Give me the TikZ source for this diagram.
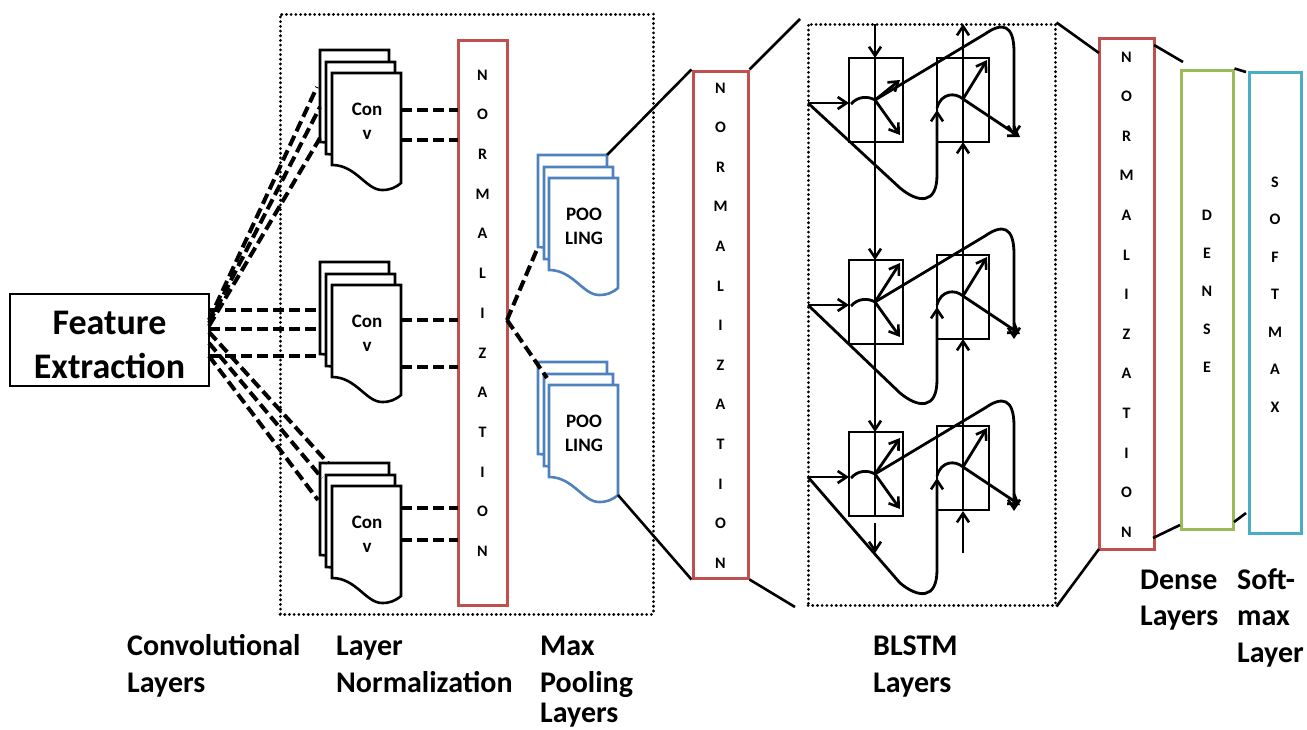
\documentclass[tikz,border=0pt]{standalone}
\usepackage{fontspec}
\setmainfont{Carlito}
\usetikzlibrary{arrows.meta}
\definecolor{nred}{RGB}{192,80,77}
\definecolor{pblue}{RGB}{79,129,189}
\definecolor{dgreen}{RGB}{155,187,89}
\definecolor{scyan}{RGB}{75,172,198}
\tikzset{
 dashln/.style={line width=4pt, dash pattern=on 11pt off 5pt},
 dotbox/.style={draw, line width=3pt, line cap=round, dash pattern=on 0.1pt off 4.6pt, inner sep=0pt},
 solidln/.style={line width=2.6pt},
 vbox/.style={draw, line width=3pt, fill=white, inner sep=0pt},
 nletter/.style={font=\fontsize{16}{16}\selectfont\bfseries, inner sep=0pt},
 lbl/.style={font=\fontsize{30}{36}\selectfont\bfseries, anchor=base west, inner sep=0pt},
 pgtext/.style={font=\fontsize{19}{24}\selectfont\bfseries, align=center, inner sep=0pt},
 cell/.style={draw, line width=2.6pt},
 flow/.style={line width=2.8pt},
 arr/.style={flow, -{Straight Barb[length=9pt,width=12pt,line width=2.6pt]}},
}
\newcommand\docpg[4]{\begin{scope}[shift={(#2,#3)}]
 \draw[line width=2.6pt, draw=#4, fill=white] (0,0) coordinate (#1-tl) -- (69,0) coordinate (#1-tr) -- (69,110) coordinate (#1-br) .. controls (63,115) and (58,117) .. (50,117) .. controls (34,117) and (24,92) .. (0,92) coordinate (#1-bl) -- cycle;
 \end{scope}}
\newcommand\blrow[4]{%
 \draw[cell] (849,58+#1) rectangle (903,142+#1);
 \draw[cell] (937,58+#2) rectangle (989,142+#2);
 \draw[arr] (808,103+#1) -- (849,103+#1);
 \draw[flow] (851,104+#1) .. controls (858,96+#1) and (868,96+#1) .. (875,100+#1);
 \draw[arr] (875,100+#1) -- (900,#3+#1);
 \draw[arr] (875,100+#1) -- (900,135+#1);
 \draw[arr] (875,100+#1) -- (985,34+#1) .. controls (1002,22+#1) and (1014,24+#1) .. (1014,52+#1) -- (1014,137+#1);
 \draw[arr] (808,103+#1) -- (900,#4-12+#1) .. controls (918,#4+3+#1) and (937,#4+5+#1) .. (937,#4-25+#1) -- (937,110+#2);
 \draw[arr] (937,108+#2) .. controls (941,93+#2) and (955,92+#2) .. (963,99+#2) -- (1020,137+#2);
 \draw[arr] (963,99+#2) -- (987,60+#2);
}
\begin{document}
\begin{tikzpicture}[x=1pt,y=-1pt]
\useasboundingbox (0,0) rectangle (1307,729);
% dotted group boxes
\node[dotbox, minimum width=373, minimum height=600] (box1) at (466.5,314) {};
\node[dotbox, minimum width=247, minimum height=581] (bl) at (931.5,314.5) {};
% feature extraction
\node[vbox, line width=2.8pt, minimum width=199, minimum height=92] (fe) at (109.5,340) {};
\node[align=center, inner sep=0pt, font=\fontsize{36}{44}\selectfont\bfseries] (fe-t) at (109.5,345) {Feature\\Extraction};
% conv stacks
\foreach \n/\y in {ca/50, cb/262, cc/463} {
 \docpg{\n1}{320}{\y}{black}
 \docpg{\n2}{326}{\y+12}{black}
 \docpg{\n3}{332}{\y+23}{black}
 \node[pgtext] (\n-t) at (367,\y+71) {Con\\v};
}
% fan from feature extraction
\draw[dashln] (209,320) -- (317,87);
\draw[dashln] (209,323) -- (320,107);
\draw[dashln] (209,326) -- (320,138);
\draw[dashln] (209,310) -- (320,310);
\draw[dashln] (209,329) -- (320,329);
\draw[dashln] (209,356) -- (320,356);
\draw[dashln] (209,332) -- (328,463);
\draw[dashln] (209,343) -- (322,478);
\draw[dashln] (209,356) -- (318,500);
% normalization 1
\node[vbox, draw=nred, minimum width=49, minimum height=565] (n1) at (482.5,322.5) {};
\foreach \c [count=\i from 0] in {N,O,R,M,A,L,I,Z,A,T,I,O,N}
 \node[nletter] (n1l\i) at (482.5,75+39.7*\i) {\c};
% conv outputs
\draw[dashln] (401,110) -- (458,110);
\draw[dashln] (401,140) -- (458,140);
\draw[dashln] (401,320) -- (458,320);
\draw[dashln] (401,367) -- (458,367);
\draw[dashln] (401,508) -- (458,508);
\draw[dashln] (401,540) -- (458,540);
% pooling stacks
\foreach \n/\y in {pa/155, pb/362} {
 \docpg{\n1}{538}{\y}{pblue}
 \docpg{\n2}{544}{\y+12}{pblue}
 \docpg{\n3}{549}{\y+23}{pblue}
 \node[pgtext] (\n-t) at (584,\y+71) {POO\\LING};
}
\coordinate (nmid) at (507,320);
\draw[dashln] (nmid) -- (pa1-bl);
\draw[dashln] (nmid) -- (547,378);
% normalization 2
\node[vbox, draw=nred, minimum width=55, minimum height=507] (n2) at (720.5,324.5) {};
\foreach \c [count=\i from 0] in {N,O,R,M,A,L,I,Z,A,T,I,O,N}
 \node[nletter] (n2l\i) at (720.5,88+39.6*\i) {\c};
\draw[solidln] (pa1-tr) -- (n2.north west);
\draw[solidln] (pb3-br) -- (n2.south west);
\coordinate (bltop) at (800,19);
\coordinate (blbot) at (795,607);
\draw[solidln] (n2.north east) -- (bltop);
\draw[solidln] (n2.south east) -- (blbot);
% BLSTM
\blrow{0}{0}{80}{200}
\blrow{202}{197}{61}{203}
\blrow{374}{368}{64}{221}
\draw[arr] (875,24) -- (875,58);
\draw[arr] (875,142) -- (875,260);
\draw[arr] (875,344) -- (875,432);
\draw[flow] (875,58) -- (875,142) (875,260) -- (875,344) (875,432) -- (875,517);
\draw[arr] (875,523) -- (875,553);
\draw[arr] (963,553) -- (963,511);
\draw[arr] (963,426) -- (963,339);
\draw[arr] (963,255) -- (963,142);
\draw[arr] (963,58) -- (963,24);
\draw[flow] (963,511) -- (963,426) (963,339) -- (963,255) (963,142) -- (963,58);
% normalization 3
\node[vbox, draw=nred, minimum width=55, minimum height=511] (n3) at (1126.5,293.5) {};
\foreach \c [count=\i from 0] in {N,O,R,M,A,L,I,Z,A,T,I,O,N}
 \node[nletter] (n3l\i) at (1126.5,57+39.6*\i) {\c};
\coordinate (n3a) at (1099,53);
\coordinate (n3b) at (1099,549);
\draw[solidln] (bl.north east) -- (n3a);
\draw[solidln] (bl.south east) -- (n3b);
% dense
\node[vbox, draw=dgreen, minimum width=52, minimum height=459] (dense) at (1207,299.5) {};
\foreach \c [count=\i from 0] in {D,E,N,S,E}
 \node[nletter] (dl\i) at (1207,215+38*\i) {\c};
% softmax
\node[vbox, draw=scyan, minimum width=52, minimum height=461] (smax) at (1275,302.5) {};
\foreach \c [count=\i from 0] in {S,O,F,T,M,A,X}
 \node[nletter] (sl\i) at (1275,182+37.5*\i) {\c};
\draw[solidln] (1154,45) -- (1183,62);
\draw[solidln] (dense.north east) -- (1246,72);
\draw[solidln] (1153,538) -- (1180,525);
\draw[solidln] (1234,522) -- (1246,513);
% labels
\node[lbl] (l1a) at (127,655) {Convolutional};
\node[lbl] (l1b) at (127,692) {Layers};
\node[lbl] (l2a) at (336,655) {Layer};
\node[lbl] (l2b) at (336,692) {Normalization};
\node[lbl] (l3a) at (540,655) {Max};
\node[lbl] (l3b) at (540,692) {Pooling};
\node[lbl] (l3c) at (540,722) {Layers};
\node[lbl] (l4a) at (873,655) {BLSTM};
\node[lbl] (l4b) at (873,692) {Layers};
\node[lbl] (l5a) at (1140,589) {Dense};
\node[lbl] (l5b) at (1140,625) {Layers};
\node[lbl] (l6a) at (1237,589) {Soft-};
\node[lbl] (l6b) at (1237,625) {max};
\node[lbl] (l6c) at (1237,662) {Layer};
\end{tikzpicture}
\end{document}
